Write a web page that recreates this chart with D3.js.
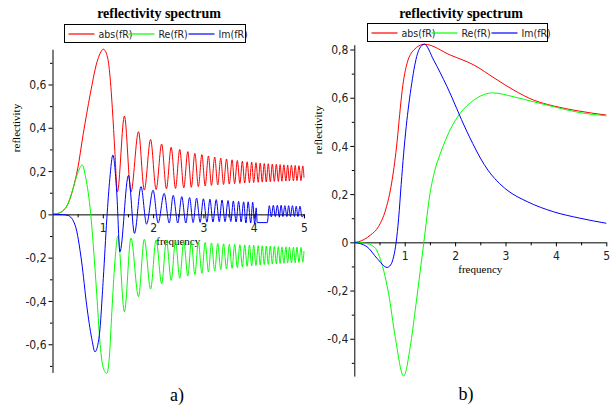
<!DOCTYPE html>
<html><head><meta charset="utf-8">
<script src="https://cdn.jsdelivr.net/npm/d3@7"></script>
<style>body{margin:0;background:#fff}svg{display:block}</style>
</head><body>
<svg id="c" width="610" height="410"></svg>
<script>
// ---------- DATA ----------
const seriesNames = ["abs(fR)", "Re(fR)", "Im(fR)"];
const seriesColors = ["#ff0000", "#00ff00", "#0000ff"];
const xTicks = [1, 2, 3, 4, 5];
const xMinor = [0.5, 1.5, 2.5, 3.5, 4.5];
const yTicksA = [-0.6, -0.4, -0.2, 0, 0.2, 0.4, 0.6];
const yMinorA = [-0.7, -0.5, -0.3, -0.1, 0.1, 0.3, 0.5, 0.7];
const yTicksB = [-0.4, -0.2, 0, 0.2, 0.4, 0.6, 0.8];
const yMinorB = [-0.5, -0.3, -0.1, 0.1, 0.3, 0.5, 0.7];

// panel a) : [frequency, value]
const absA = [[0,0],[0.1,0.004],[0.2,0.015],[0.3,0.045],[0.41,0.12],[0.5,0.21],[0.61,0.37],[0.75,0.555],[0.88,0.70],[0.95,0.745],[1.01,0.763],[1.07,0.745],[1.13,0.67],[1.19,0.49],[1.24,0.29],[1.29,0.104],
 [1.43,0.454],[1.56,0.104],[1.71,0.382],[1.825,0.112],[1.95,0.346],[2.06,0.115],[2.17,0.325],[2.265,0.118],[2.36,0.31],[2.445,0.12],[2.53,0.30],[2.61,0.122],[2.69,0.29],[2.76,0.125],[2.83,0.282],[2.90,0.128],[2.97,0.276],[3.035,0.131],[3.10,0.27],[3.16,0.134],[3.225,0.265],[3.285,0.136],[3.345,0.26],[3.40,0.138],[3.46,0.256],[3.515,0.14],[3.57,0.252],[3.62,0.142],[3.675,0.249],[3.725,0.143],[3.775,0.246],[3.82,0.145],[3.87,0.243],[3.915,0.146],[3.96,0.241],[4.00,0.147],[4.045,0.239],[4.09,0.148],[4.13,0.237],[4.17,0.149],[4.21,0.235],[4.25,0.15],[4.29,0.234],[4.33,0.151],[4.37,0.232],[4.41,0.152],[4.45,0.231],[4.49,0.152],[4.525,0.23],[4.56,0.153],[4.60,0.229],[4.64,0.154],[4.675,0.228],[4.71,0.154],[4.75,0.227],[4.79,0.155],[4.825,0.226],[4.86,0.156],[4.90,0.225],[4.94,0.156],[4.975,0.224],[5.0,0.17]];
const reA = [[0,0],[0.1,0.004],[0.2,0.015],[0.3,0.045],[0.41,0.12],[0.5,0.19],[0.59,0.228],[0.66,0.17],[0.76,0],[0.81,-0.14],[0.88,-0.37],[0.94,-0.58],[1.0,-0.70],[1.08,-0.735],[1.13,-0.66],[1.18,-0.45],[1.24,-0.22],[1.30,-0.10],
 [1.43,-0.45],[1.56,-0.11],[1.71,-0.38],[1.825,-0.115],[1.95,-0.345],[2.06,-0.118],[2.17,-0.32],[2.265,-0.12],[2.36,-0.305],[2.445,-0.122],[2.53,-0.295],[2.61,-0.124],[2.69,-0.285],[2.76,-0.126],[2.83,-0.278],[2.90,-0.128],[2.97,-0.272],[3.035,-0.13],[3.10,-0.266],[3.16,-0.132],[3.225,-0.261],[3.285,-0.134],[3.345,-0.256],[3.40,-0.136],[3.46,-0.252],[3.515,-0.138],[3.57,-0.249],[3.62,-0.139],[3.675,-0.246],[3.725,-0.14],[3.775,-0.243],[3.82,-0.141],[3.87,-0.24],[3.915,-0.142],[3.96,-0.238],[4.00,-0.143],[4.045,-0.236],[4.09,-0.144],[4.13,-0.234],[4.17,-0.145],[4.21,-0.232],[4.25,-0.146],[4.29,-0.231],[4.33,-0.147],[4.37,-0.229],[4.41,-0.148],[4.45,-0.228],[4.49,-0.149],[4.525,-0.227],[4.56,-0.15],[4.60,-0.226],[4.64,-0.15],[4.675,-0.225],[4.71,-0.151],[4.75,-0.224],[4.79,-0.152],[4.825,-0.223],[4.86,-0.152],[4.90,-0.222],[4.94,-0.153],[4.975,-0.221],[5.0,-0.17]];
const imA = [[0,0],[0.2,-0.001],[0.31,-0.005],[0.45,-0.05],[0.58,-0.22],[0.68,-0.42],[0.78,-0.573],[0.845,-0.635],[0.93,-0.56],[1.01,-0.296],[1.08,-0.02],[1.14,0.166],[1.20,0.274],[1.28,0.09],[1.34,-0.173],
 [1.51,0.18],[1.63,-0.088],[1.76,0.128],[1.87,-0.045],[2.0,0.112],[2.10,-0.04],[2.22,0.097],[2.32,-0.04],[2.40,0.088],[2.49,-0.04],[2.57,0.082],[2.65,-0.04],[2.725,0.078],[2.795,-0.038],[2.865,0.075],[2.935,-0.037],[3.0,0.072],[3.07,-0.036],[3.13,0.07],[3.19,-0.035],[3.255,0.068],[3.315,-0.034],[3.37,0.066],[3.43,-0.034],[3.49,0.064],[3.545,-0.033],[3.595,0.062],[3.65,-0.035],[3.70,0.06],[3.75,-0.035],[3.80,0.058],[3.845,-0.04],[3.89,0.058],[3.94,-0.04],[3.98,0.056],[4.02,-0.045],[4.05,0.03],[4.07,-0.038],[4.27,-0.038],[4.31,0.04],[4.35,-0.012],[4.39,0.042],[4.43,-0.01],[4.47,0.042],[4.51,-0.01],[4.545,0.042],[4.58,-0.01],[4.62,0.04],[4.66,-0.01],[4.695,0.04],[4.73,-0.01],[4.77,0.04],[4.81,-0.01],[4.845,0.038],[4.88,-0.01],[4.92,0.038],[4.96,-0.012],[5.0,0.0]];

// panel b)
const absB = [[0,0],[0.09,0.003],[0.32,0.03],[0.48,0.065],[0.62,0.134],[0.7,0.2],[0.75,0.258],[0.8,0.33],[0.85,0.42],[0.9,0.53],[0.95,0.63],[1.0,0.70],[1.05,0.745],[1.18,0.798],[1.39,0.822],[1.905,0.777],[2.37,0.736],[2.79,0.68],[3.16,0.632],[3.56,0.59],[3.95,0.566],[4.42,0.546],[5.0,0.528]];
const reB = [[0,0],[0.2,-0.003],[0.4,-0.02],[0.5,-0.06],[0.58,-0.115],[0.68,-0.212],[0.81,-0.39],[0.98,-0.555],[1.11,-0.433],[1.21,-0.28],[1.31,-0.115],[1.38,0],[1.5,0.2],[1.6,0.3],[1.71,0.37],[1.9,0.466],[2.1,0.535],[2.37,0.59],[2.75,0.62],[3.16,0.604],[3.56,0.583],[3.95,0.563],[4.48,0.538],[5.0,0.525]];
const imB = [[0,0],[0.25,-0.018],[0.45,-0.066],[0.65,-0.104],[0.72,-0.094],[0.78,-0.06],[0.83,0],[0.88,0.10],[0.93,0.24],[0.98,0.37],[1.03,0.48],[1.08,0.57],[1.14,0.66],[1.2,0.735],[1.25,0.78],[1.3,0.806],[1.39,0.822],[1.575,0.756],[1.84,0.646],[2.22,0.466],[2.35,0.41],[2.5,0.35],[2.65,0.30],[2.83,0.255],[3.03,0.217],[3.43,0.169],[3.95,0.127],[4.48,0.10],[5.0,0.079]];

// ---------- DRAWING ----------
const svg = d3.select("#c");
const tickFont = "'Liberation Sans Narrow','Arial Narrow','DejaVu Sans Condensed',sans-serif";
const serif = "'Liberation Serif','Times New Roman',serif";
const fmt = d => String(d).replace(".", ",");

function panel(o) {
  const g = svg.append("g");
  const x = d3.scaleLinear().domain([0, 5]).range(o.xr);
  const y = d3.scaleLinear().domain(o.yd).range(o.yr);

  // title
  g.append("text").attr("x", o.titleX).attr("y", 18).attr("text-anchor", "middle")
    .attr("font-family", serif).attr("font-weight", "bold").attr("font-size", 14)
    .text("reflectivity spectrum");

  // legend
  const L = o.legend;
  g.append("rect").attr("x", L.x).attr("y", L.y).attr("width", L.w).attr("height", L.h)
    .attr("fill", "#fff").attr("stroke", "#000").attr("stroke-width", 1);
  seriesNames.forEach((n, i) => {
    const lx = L.x + 4 + i * 60;
    g.append("line").attr("x1", lx).attr("x2", lx + 26).attr("y1", L.y + 9.5).attr("y2", L.y + 9.5)
      .attr("stroke", seriesColors[i]).attr("stroke-width", 1.2);
    g.append("text").attr("x", lx + 30).attr("y", L.y + 13).attr("font-family", tickFont)
      .attr("font-size", 10.5).attr("fill", "#222").text(n);
  });

  // axes
  const yAx = g.append("g").attr("transform", `translate(${x(0)},0)`)
    .call(d3.axisLeft(y).tickValues(o.yTicks).tickFormat(fmt).tickSize(4).tickPadding(2).tickSizeOuter(0));
  g.append("g").attr("transform", `translate(${x(0)},0)`)
    .call(d3.axisLeft(y).tickValues(o.yMinor).tickFormat("").tickSize(2.5).tickSizeOuter(0))
    .select(".domain").remove();
  g.append("g").attr("transform", `translate(0,${y(0)})`)
    .call(d3.axisBottom(x).tickValues(xTicks).tickFormat(d3.format("d")).tickSize(4).tickPadding(5).tickSizeOuter(0));
  g.append("g").attr("transform", `translate(0,${y(0)})`)
    .call(d3.axisBottom(x).tickValues(xMinor).tickFormat("").tickSize(3).tickSizeOuter(0))
    .select(".domain").remove();
  g.selectAll(".tick text").attr("font-family", tickFont).attr("font-size", 12).attr("fill", "#222");
  yAx.selectAll(".tick text").attr("dy", "0.35em");
  g.selectAll(".domain").attr("stroke", "#000");

  // labels
  g.append("text").attr("x", (o.xr[0] + o.xr[1]) / 2).attr("y", y(0) + 31).attr("text-anchor", "middle")
    .attr("font-family", serif).attr("font-size", 11).text("frequency");
  g.append("text").attr("transform", `translate(${o.ylab[0]},${o.ylab[1]}) rotate(-90)`)
    .attr("text-anchor", "middle").attr("font-family", serif).attr("font-size", 11).text("reflectivity");
  g.append("text").attr("x", o.cap[0]).attr("y", o.cap[1]).attr("text-anchor", "middle")
    .attr("font-family", serif).attr("font-size", 18).text(o.capText);

  // curves
  const line = d3.line().x(d => x(d[0])).y(d => y(d[1])).curve(d3.curveMonotoneX);
  o.data.forEach((s, i) => {
    g.append("path").datum(s).attr("d", line).attr("fill", "none")
      .attr("stroke", seriesColors[i]).attr("stroke-width", 1);
  });
}

panel({ xr: [52.5, 304], yd: [-0.73, 0.763], yr: [372.4, 49.2], yTicks: yTicksA, yMinor: yMinorA,
  titleX: 159, legend: { x: 64.5, y: 24.5, w: 181, h: 18 }, ylab: [20, 128], cap: [177, 401], capText: "a)",
  data: [absA, reA, imA] });
panel({ xr: [354.3, 606.3], yd: [-0.555, 0.82], yr: [376.1, 44.7], yTicks: yTicksB, yMinor: yMinorB,
  titleX: 461, legend: { x: 367.5, y: 23.5, w: 180, h: 18 }, ylab: [322, 130], cap: [466, 400], capText: "b)",
  data: [absB, reB, imB] });
</script>
</body></html>
